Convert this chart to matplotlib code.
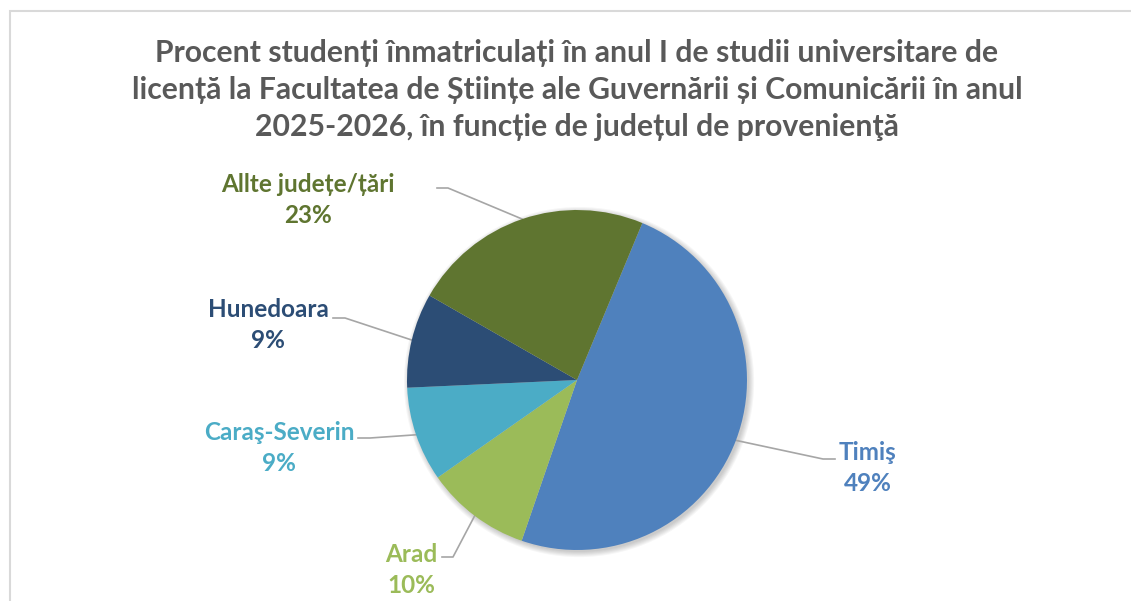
import numpy as np
import matplotlib.pyplot as plt
from matplotlib.patches import Rectangle, Circle

# data
categories = ['Timiş', 'Arad', 'Caraş-Severin', 'Hunedoara', 'Allte județe/țări']
values = [49, 10, 9, 9, 23]
colors = ['#4F81BD', '#9BBB59', '#4BACC6', '#2C4D75', '#5F7530']

title = ('Procent studenți înmatriculați în anul I de studii universitare de\n'
         'licență la Facultatea de Științe ale Guvernării și Comunicării în anul\n'
         '2025-2026, în funcție de județul de provenienţă')

W, H = 1131, 601
cx, cy, R = 577, 380, 170   # pie centre / radius in pixels

# label centre, elbow and text-end of leader (pixels)
label_pos = [(868, 468), (411, 570), (279, 448), (268, 325), (308, 200)]
elbows = [(823, 459), (453, 557), (370, 438), (345, 318), (448, 188)]
line_end = [(835, 459), (442, 557), (358, 438), (333, 318), (437, 188)]

plt.rcParams['font.family'] = ['Lato', 'DejaVu Sans']

fig = plt.figure(figsize=(W / 100, H / 100), dpi=100)
ax = fig.add_axes([0, 0, 1, 1])


def px(p):
    return ((p[0] - cx) / R, (cy - p[1]) / R)


fig.patches.append(Rectangle((10 / W, -0.1), 1.2, 1 - 11 / H + 0.1, transform=fig.transFigure,
                             fill=False, edgecolor='#D9D9D9', linewidth=1.5))

# soft shadow under the pie
for k in range(6):
    ax.add_patch(Circle((0.012, -0.012), 1 + 0.006 * k, color='black',
                        alpha=0.035, lw=0, zorder=0))

wedges, _ = ax.pie(values, colors=colors, startangle=67.4, counterclock=False,
                   radius=1, center=(0, 0), frame=True,
                   wedgeprops=dict(linewidth=0))
ax.set_xlim(-cx / R, (W - cx) / R)
ax.set_ylim(-(H - cy) / R, cy / R)
ax.axis('off')

for w, name, v, c, lp, el, le in zip(wedges, categories, values, colors, label_pos, elbows, line_end):
    ang = np.deg2rad((w.theta1 + w.theta2) / 2)
    p0 = (np.cos(ang), np.sin(ang))
    e = px(el)
    t = px(le)
    ax.plot([p0[0], e[0], t[0]], [p0[1], e[1], t[1]], color='#A6A6A6', lw=1.2, zorder=0.5)
    x, y = px(lp)
    ax.text(x, y, f'{name}\n{v}%', ha='center', va='center', color=c,
            fontsize=17.5, fontweight='bold', linespacing=1.4)

fig.text(577 / W, 1 - 90 / H, title, ha='center', va='center', color='#595959',
         fontsize=21.7, fontweight='bold', linespacing=1.39)

fig.savefig('out.png', dpi=100)
